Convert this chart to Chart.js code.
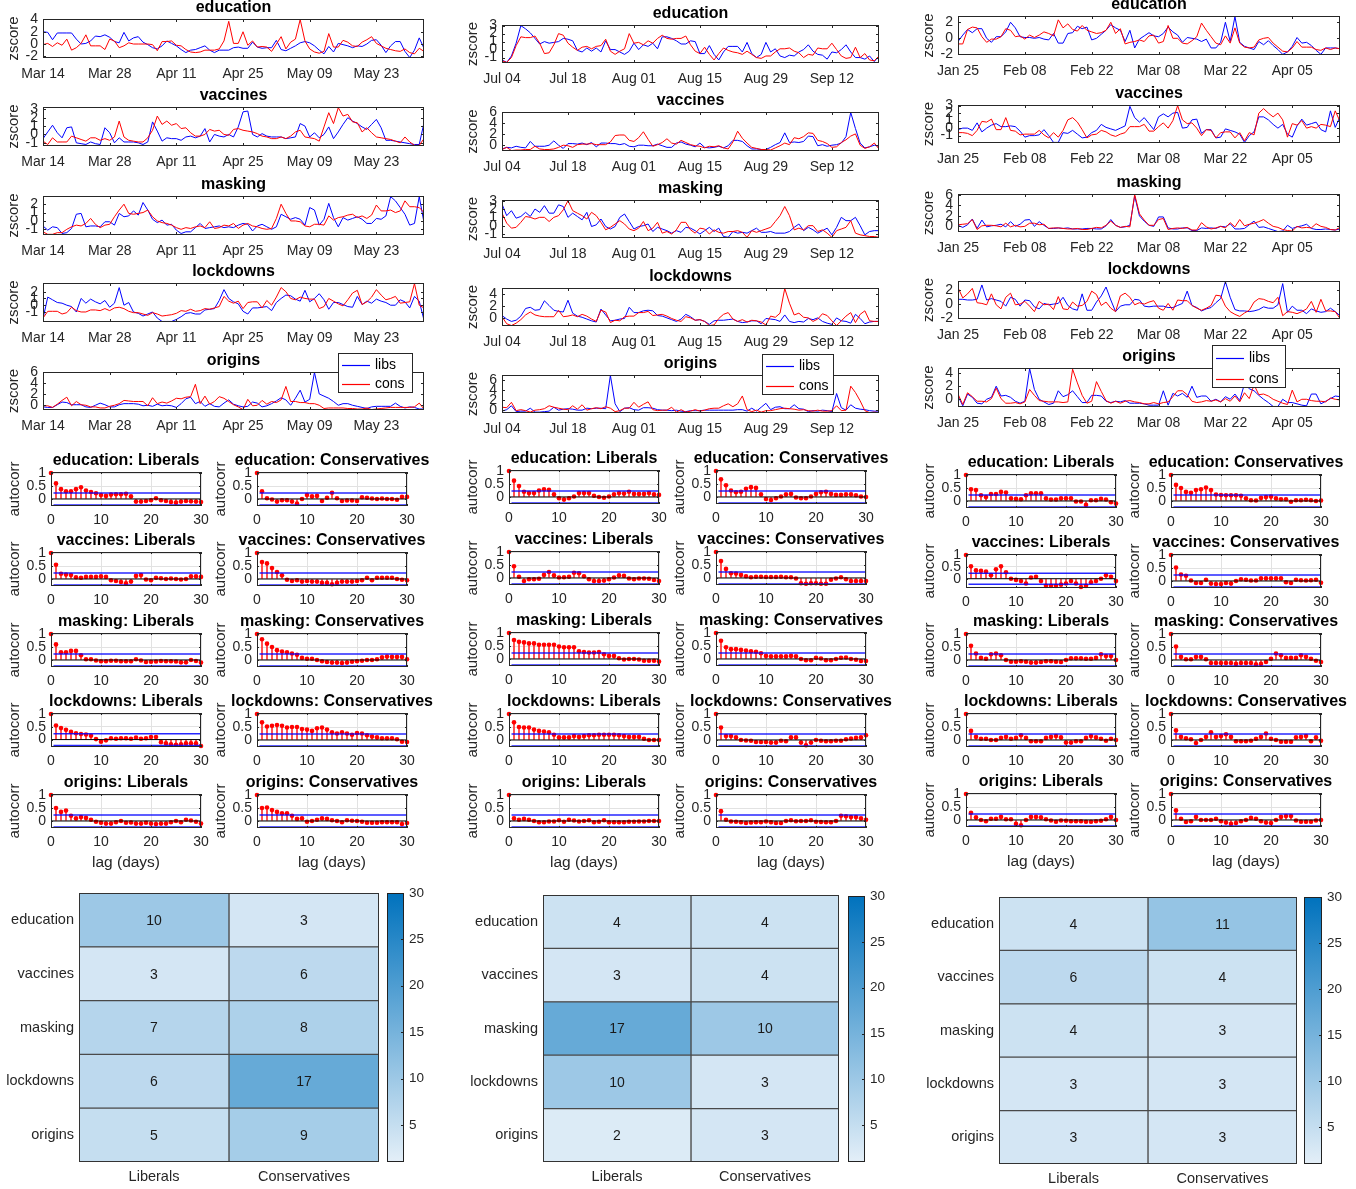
<!DOCTYPE html>
<html>
<head>
<meta charset="utf-8">
<script src="https://cdn.jsdelivr.net/npm/chart.js@4.4.1/dist/chart.umd.min.js"></script>
<style>
  body { margin: 0; background: #fff; }
  #fig { position: relative; width: 1356px; height: 1189px; overflow: hidden; background: #fff; }
  #fig canvas { position: absolute; }
</style>
</head>
<body>
<div id="fig"></div>
<script>
const topics = ["education", "vaccines", "masking", "lockdowns", "origins"];
const groups = ["Liberals", "Conservatives"];
const dates1 = ["Mar 14", "Mar 28", "Apr 11", "Apr 25", "May 09", "May 23"];
const dates2 = ["Jul 04", "Jul 18", "Aug 01", "Aug 15", "Aug 29", "Sep 12"];
const dates3 = ["Jan 25", "Feb 08", "Feb 22", "Mar 08", "Mar 22", "Apr 05"];
const lags = [0,1,2,3,4,5,6,7,8,9,10,11,12,13,14,15,16,17,18,19,20,21,22,23,24,25,26,27,28,29,30];
const lagTicks = [0, 10, 20, 30];
const acfTicks = [0, 0.5, 1];
const cbarTicks = [5, 10, 15, 20, 25, 30];
const cbarRange = [1, 30];

// z-scores, column 1 (Mar 14 - Jun 2)
const libs1Edu = [2.0,1.9,0.7,1.8,1.8,1.8,1.8,0.8,0.0,0.1, 0.5,1.3,1.2,1.5,1.1,0.4,0.2,1.9,0.5,1.0, 1.2,0.3,-0.1,-0.6,-0.8,-0.3,0.5,0.1,-0.3,-0.9, -1.4,-1.0,-0.9,-0.6,-0.3,-1.0,-1.4,-1.0,-1.0,-1.0, -0.6,-0.5,-0.7,-0.7,0.3,-0.5,-0.7,-0.6,-0.6,0.6, -0.9,-1.1,-0.7,-0.3,0.2,0.4,0.2,-0.3,-1.0,-1.6, -0.4,-1.3,0.1,-0.1,-0.3,-0.6,-0.3,-0.4,0.0,0.6, 0.7,-0.2,-1.4,-0.3,0.4,0.4,-1.2,-2.2,-1.0,1.0,-0.7];
const cons1Edu = [-0.1,0.1,-0.4,0.2,-0.2,0.8,-1.0,-0.6,0.1,1.5, -0.3,-0.3,-0.3,-0.9,0.8,0.5,-0.6,-0.3,0.2,0.0, 0.0,0.0,0.0,-0.1,-1.1,0.4,0.4,0.5,-0.2,-0.3, -0.9,-1.3,-1.4,-1.3,-1.0,-1.0,-1.0,-0.8,0.5,3.7, 0.1,0.1,2.0,-0.2,0.5,-0.5,-0.4,-0.5,-1.2,0.0, 1.2,-0.8,0.3,0.8,4.0,0.5,-0.8,-1.3,-1.5,-1.2, 1.7,-0.5,-0.5,0.6,0.3,-0.3,-0.4,0.3,0.7,1.2, 0.1,-0.3,-0.7,-0.9,-1.1,-1.2,-0.8,-1.4,-1.6,-0.7,-1.2];
const libs1Vac = [-0.5,0.3,1.1,0.2,-0.4,0.8,0.9,-1.0,-1.1,-1.2, -0.9,-1.1,-1.2,0.8,0.2,-1.0,-0.4,-0.9,-0.9,-0.9, -1.0,-1.2,-0.9,1.5,0.4,-0.8,-0.4,-0.5,-0.5,-0.7, -0.3,-0.2,-0.4,-0.2,0.7,-0.9,0.0,-0.2,-0.3,0.0, -0.3,0.9,2.7,2.8,0.0,-0.3,0.1,-0.2,-0.3,-0.3, -0.3,-0.5,-0.4,-0.3,1.3,1.0,-0.3,0.2,-0.4,0.0, 0.9,-0.5,0.3,1.2,2.0,1.6,1.3,0.9,0.6,1.2, 1.8,0.8,-0.7,-0.7,-0.8,-0.9,-1.0,-1.1,-1.2,-1.2,1.4];
const cons1Vac = [-0.8,-1.2,-0.4,-0.9,-0.9,-0.9,-0.2,-0.4,-0.6,-0.8, -0.4,-0.4,-0.7,-0.5,-0.7,-0.3,1.6,-0.3,-0.7,-0.8, -0.9,-0.9,-0.4,0.5,2.2,1.2,1.6,1.1,1.3,0.7, 0.8,0.2,-0.2,-0.2,0.0,0.6,0.4,0.5,0.0,-0.1, 0.6,0.7,0.5,0.4,0.3,0.1,-0.2,-0.3,-0.5,-0.5, -0.3,-0.5,-0.2,0.3,0.5,-0.3,-0.4,-0.5,-0.8,0.9, 2.6,1.3,3.2,2.2,2.4,1.5,1.4,0.3,0.8,0.2, -0.3,-0.4,-0.5,-0.6,-0.8,-1.0,-0.3,-0.9,-1.3,-1.3,-0.5];
const libs1Mask = [-0.6,-1.1,-0.7,-0.8,-1.5,-1.4,-0.9,0.8,0.9,-0.7, -0.6,-0.6,-0.7,-0.1,-0.1,-0.5,0.9,0.5,0.6,1.2, 0.7,2.2,1.3,0.2,-0.2,0.1,-0.5,-0.4,-1.1,-1.5, -1.3,-1.3,-0.8,-0.3,-0.9,-0.8,-0.7,-0.6,-0.8,-0.7, -0.8,-0.5,-0.3,-0.4,-1.2,-0.6,-0.4,-0.7,-1.0,-0.7, 0.8,0.5,0.2,0.4,0.2,-0.5,1.6,1.3,-0.5,0.2, 2.1,0.4,-0.7,0.4,0.1,0.3,0.5,0.2,-0.3,-0.3, 0.3,0.2,0.6,2.9,2.4,1.6,0.8,-0.5,-0.3,2.9,-0.2];
const cons1Mask = [-1.3,-1.6,-1.6,-1.4,-1.4,-1.0,-0.7,-0.5,-0.6,-0.3, 0.3,-0.4,-0.8,-0.5,-0.4,0.5,1.3,2.0,0.9,0.8, 0.9,1.0,1.3,0.5,0.0,-0.2,-0.3,-0.5,-0.8,-1.0, -0.8,-0.9,-0.7,-0.6,-0.8,-0.1,-0.9,-0.8,-0.5,-0.6, -0.3,-0.9,-0.5,-0.3,-0.6,-0.7,-0.9,-1.0,-0.9,0.3, 2.0,0.9,0.0,0.0,-0.1,-0.6,-0.7,-0.4,-0.4,-0.5, 0.6,0.1,0.4,0.5,0.7,0.8,0.4,0.6,0.3,0.7, 1.9,1.2,1.2,1.3,1.0,1.2,2.4,1.7,1.7,1.6,1.0];
const libs1Lock = [-2.0,1.2,0.8,0.4,0.3,0.0,-0.2,-1.0,1.0,0.3, 0.9,0.5,0.2,0.7,-0.3,0.3,2.6,0.0,0.4,-1.0, -1.2,-1.6,-1.3,-1.0,-1.9,-2.4,-2.4,-2.4,-2.1,-1.7, -1.2,-1.1,-1.3,-1.3,-0.7,-0.6,-0.5,0.7,2.3,1.0, 0.5,0.2,-0.9,-1.3,-0.4,-0.4,-0.3,-0.2,-0.8,0.4, 1.0,1.5,1.4,0.9,0.6,2.2,0.5,1.0,1.7,0.8, -0.6,0.4,0.4,0.1,-0.2,-0.3,1.3,0.1,0.6,0.3, 0.9,0.6,0.4,0.0,0.0,0.8,0.5,-0.4,1.3,0.6,-2.2];
const cons1Lock = [-1.9,-0.9,-0.9,-0.9,-1.3,-1.1,-0.3,-0.8,-1.0,-1.0, -0.7,-0.7,-0.8,-0.5,-0.8,-0.4,-0.3,-0.5,-0.9,-1.1, -1.1,-1.3,-1.5,-1.1,-1.3,-1.6,-1.5,-1.4,-1.2,-0.8, -0.9,-0.6,-0.9,-0.8,-0.5,-0.6,-0.4,-0.2,1.3,0.6, 0.3,0.6,-0.5,0.4,0.5,0.5,-0.4,0.7,0.0,1.2, 2.6,2.0,1.0,0.8,1.2,1.0,0.9,0.9,-0.5,-0.2, 1.0,0.6,0.2,-0.1,0.8,1.8,2.2,0.1,0.5,1.2, 2.3,1.5,0.8,1.0,1.3,0.3,0.4,0.5,3.2,0.0,-0.4];
const libs1Orig = [-0.4,-0.5,-0.5,0.0,0.5,0.4,0.0,0.0,0.0,-0.4, -0.5,-0.1,0.3,0.0,-0.4,-0.4,0.0,0.2,0.2,0.2, 0.1,-0.2,-0.1,-0.3,0.1,-0.2,-0.1,-0.2,-0.5,0.2, 1.1,1.4,0.2,0.6,-0.3,0.2,-0.3,-0.4,0.3,0.9, 0.1,-0.2,-0.4,-0.3,0.5,0.3,-0.4,-0.2,0.2,0.7, 1.3,0.9,-0.1,1.2,2.7,0.5,1.0,6.0,2.0,1.6, 1.2,0.6,-0.1,0.2,0.2,-0.1,-0.3,-0.5,-0.7,-0.4, -0.3,-0.3,-0.3,-0.3,0.3,-0.3,-0.6,-0.4,-0.5,-0.8,-0.8];
const cons1Orig = [-0.2,-0.2,-0.5,0.1,0.8,1.4,-0.2,0.6,0.0,-0.1, -0.4,-0.4,-0.6,-0.6,-0.3,-0.1,0.2,0.8,0.7,0.6, 0.6,0.6,-0.2,1.3,0.2,0.5,0.3,0.7,1.2,1.1, 1.4,1.5,3.8,0.2,1.6,0.1,0.6,1.5,1.2,0.6, 0.0,-0.4,-0.9,1.0,-0.2,-0.1,0.8,0.1,0.6,0.4, 0.9,3.4,0.6,0.6,0.4,0.4,0.2,0.2,-0.1,-0.7, -0.6,-0.6,-0.6,-0.6,-0.7,-0.7,-0.8,-0.8,-0.6,-0.9, -0.8,-0.7,-0.6,-0.5,-0.5,-0.5,-0.5,-0.5,-0.4,0.3,-0.8];

// z-scores, column 2 (Jul 04 - Sep 23)
const libs2Edu = [-1.3,-1.6,-0.8,0.8,3.0,2.6,2.1,1.4,0.7,1.0, 0.8,0.9,1.0,1.4,1.3,1.1,-0.1,-0.3,0.2,-0.2, 0.2,-0.3,1.1,0.0,0.0,-0.3,-0.6,-0.2,0.8,0.0, 0.6,0.4,0.8,0.1,1.6,1.6,1.4,1.1,0.7,0.7, 1.1,1.0,-0.5,-0.5,0.5,-0.6,-1.3,-0.3,0.4,0.4, 0.4,-0.3,0.9,-0.5,-1.0,-0.6,0.9,-0.3,0.1,-0.8, -1.0,-0.7,-0.8,-0.3,0.0,0.6,-0.2,-0.6,-0.7,-1.2, -0.3,-0.4,0.0,0.6,-0.3,-1.0,-1.0,-1.2,-0.8,-1.5,-0.8];
const cons2Edu = [-1.4,-1.6,-1.0,0.5,1.6,1.5,1.5,1.7,0.8,-0.5, -0.4,0.6,2.0,1.8,0.8,0.3,-0.1,0.3,0.4,0.1, 0.4,0.5,1.3,-0.2,-0.6,-0.2,0.1,2.0,0.8,0.9, 0.6,1.1,0.8,1.4,1.8,1.4,1.3,1.4,1.4,1.7, 0.6,-0.2,-0.5,0.3,-0.6,-1.3,-0.5,0.2,-0.1,-0.3, -0.4,-0.6,-0.2,-0.6,-1.0,-1.1,-0.8,-0.8,-0.3,0.1, 0.1,0.2,-0.2,-0.4,-1.0,-0.6,-0.7,0.2,0.1,0.1, 0.8,0.0,-0.8,-1.1,-1.0,0.3,-1.0,-0.5,-1.3,-1.4,-0.8];
const libs2Vac = [-0.8,-0.5,-0.6,-0.3,-0.5,-0.6,0.6,-0.3,-0.3,-0.3, -0.1,0.7,-0.1,-0.7,0.2,0.2,0.1,0.3,0.0,0.4, -0.4,0.3,0.3,0.2,0.2,0.0,0.2,-0.3,-0.4,-0.1, -0.1,-0.2,-0.2,0.1,-0.2,-0.5,-0.5,0.3,0.5,0.1, -0.1,-0.4,0.3,-0.5,-0.6,-0.5,-0.3,-0.6,-0.2,0.8, 0.8,0.6,-0.2,-0.8,-0.8,-0.9,-0.9,-0.5,0.0,0.4, 2.2,0.4,0.5,0.4,0.6,1.6,1.5,-0.2,0.0,-0.3, -0.1,0.0,0.3,1.5,6.0,3.0,0.3,-0.6,-0.4,-0.1,-0.3];
const cons2Vac = [-0.9,-0.5,-1.1,-1.0,-1.0,-0.9,-0.9,-0.3,-0.8,-0.9, -0.9,-0.8,-0.5,-0.1,-0.2,-0.5,0.0,0.1,0.1,0.2, 0.0,0.0,0.0,0.5,1.7,1.8,1.8,0.8,0.6,1.3, 2.4,1.0,-0.3,0.0,0.4,1.1,0.3,0.1,0.8,0.4, 0.0,-0.2,-0.3,-0.6,-0.3,-0.4,-0.2,-0.6,-0.8,0.5, 2.5,1.2,0.3,-0.5,-0.7,-0.9,-0.9,-1.0,-0.6,-0.2, 0.3,0.0,1.3,1.1,1.5,2.2,2.1,0.8,0.6,0.2, -0.5,-0.4,0.4,0.9,1.6,2.0,-0.1,-0.7,-0.4,0.3,-0.8];
const libs2Mask = [2.6,1.2,1.8,0.9,1.1,1.6,1.1,2.0,1.6,2.4, 1.5,1.5,2.5,2.3,1.0,1.5,1.1,0.7,1.6,-0.1, 0.1,0.8,-0.1,-0.4,-0.1,1.0,1.4,0.5,-0.4,-0.1, 0.0,0.2,-0.7,-0.2,-0.4,-0.6,-0.9,-0.6,-0.8,-0.2, -0.3,-0.6,-1.0,-0.6,-0.2,-0.7,-0.3,-1.3,-1.4,-0.7, -0.9,-0.8,-0.9,-0.6,-0.3,-0.8,-0.8,-0.7,-0.9,-0.9, -0.9,-0.7,-0.2,0.2,-0.6,-0.2,-0.5,-0.9,-0.6,-0.3, -1.1,-0.2,1.0,0.6,0.6,1.0,0.0,-1.1,-0.7,-0.6,-0.6];
const cons2Mask = [1.5,0.3,-0.3,-0.2,0.4,1.1,1.0,0.8,1.0,1.0, 0.5,1.0,1.2,1.9,3.0,1.8,1.5,1.2,0.8,1.6, 1.2,0.4,-0.5,-0.2,0.2,0.6,0.2,-0.4,-0.6,-0.3, 0.5,-0.6,-0.3,0.4,-0.9,-0.7,-1.0,-0.5,0.4,0.4, -0.5,-0.9,-0.3,-0.4,-1.0,-0.5,-0.8,-0.9,-0.7,-0.7, -0.6,-0.8,-1.4,-0.6,-0.8,-0.6,-0.4,-0.2,0.5,1.2, 2.3,1.2,-0.5,-0.3,-0.5,0.0,0.0,-0.7,-0.5,-0.9, -1.4,-0.6,-0.4,-0.2,0.6,-0.9,-1.1,-1.2,-1.3,-1.3,-1.4];
const libs2Lock = [0.4,-0.2,-0.6,-0.4,0.3,1.6,1.8,1.3,1.4,2.9, 2.1,1.3,1.1,1.0,3.0,0.8,0.3,0.1,-0.2,-0.5, -0.7,1.5,0.5,-0.5,-0.4,-0.2,-0.1,1.8,0.9,0.9, 1.2,1.3,1.2,0.4,0.3,0.0,-0.3,-0.6,-0.2,0.6, 0.2,-0.4,-0.3,-0.6,-1.1,-0.5,-0.4,-0.4,-0.3,-0.2, -0.6,-0.8,-0.7,-0.5,-0.5,-1.0,-0.1,-0.2,-0.3,-0.6, 0.5,-0.6,-0.8,-0.6,-0.7,-0.1,-0.3,0.0,-0.6,-0.9, -1.1,0.0,-0.5,-0.6,-0.9,0.6,-0.1,-1.0,-0.7,-0.6,-0.6];
const cons2Lock = [0.2,-1.0,-1.3,-0.9,-0.3,0.5,1.0,0.5,0.3,0.2, 0.2,0.2,1.3,0.2,0.3,0.5,0.2,0.6,0.3,-0.2, -0.6,1.3,1.0,-0.8,-0.4,-0.5,0.2,0.3,0.3,0.9, 0.9,1.1,0.4,0.5,0.6,0.3,-0.1,-0.4,-0.6,0.2, 0.0,-0.4,-0.3,-0.6,-1.3,-1.2,-0.1,0.6,0.9,-0.2, -0.6,-0.3,-0.7,-0.4,-0.5,-0.7,-1.2,0.3,0.1,0.8, 5.0,2.5,0.5,0.8,0.1,0.0,-0.6,-0.2,0.7,0.4, -0.5,-1.3,-0.5,0.3,0.9,-0.8,0.6,1.2,-0.5,-0.6,-0.6];
const libs2Orig = [-0.3,0.0,0.8,-0.4,-0.3,-0.3,0.3,-0.5,-0.5,-0.4, -0.3,0.5,-0.1,0.1,0.2,0.1,-0.1,-0.1,0.3,0.2, 0.3,0.3,0.2,7.0,1.2,-0.4,0.3,0.4,0.0,-0.1, 0.4,0.4,0.3,0.0,-0.1,-0.1,-0.2,-0.1,-0.3,-0.4, -0.2,-0.2,-0.2,-0.1,-0.1,-0.1,-0.1,-0.1,-0.1,-0.1, 0.0,0.0,-0.3,0.3,-0.3,0.5,1.3,0.0,0.5,0.6, 0.2,0.2,1.0,0.2,0.1,-0.4,-0.2,-0.3,-0.1,-0.2, -0.4,3.3,0.4,-0.1,1.0,0.3,0.1,0.0,-0.2,-0.3,-0.3];
const cons2Orig = [0.5,0.4,1.5,-0.2,0.0,-0.2,-0.5,-0.1,0.0,0.2, 0.8,0.5,0.3,0.1,0.0,0.8,0.1,1.0,-0.1,0.2, 0.4,0.2,0.6,0.3,-0.4,-0.2,0.3,0.3,1.5,0.5, 1.1,1.6,0.0,-0.2,-0.1,-0.1,0.5,-0.5,0.0,-0.5, -0.3,0.0,-0.3,-0.1,0.2,0.3,0.3,0.8,1.2,0.6, 1.2,2.8,0.0,-0.4,-0.1,-0.5,-0.2,-0.2,0.0,0.2, 0.3,0.2,0.1,-0.1,0.0,-0.2,-0.3,-0.1,-0.3,-0.3, -0.2,0.8,-0.2,-0.1,4.8,3.5,1.8,-0.2,-0.6,-0.5,-0.6];

// z-scores, column 3 (Jan 25 - Apr 15)
const libs3Edu = [-0.4,0.4,1.1,0.7,1.2,1.2,0.0,-0.5,0.2,0.2, 0.8,2.0,1.3,0.2,0.1,0.1,0.0,0.1,-0.1,-0.2, 0.6,-0.6,-0.6,0.6,0.7,1.5,1.2,1.4,-0.2,0.0, 0.5,1.0,1.7,1.3,1.0,-0.4,1.0,-1.2,-0.1,0.3, 0.7,0.3,0.2,0.6,1.4,0.8,0.4,-0.5,0.1,0.0, -0.1,-0.4,-0.1,-1.2,-1.2,-0.5,2.0,-0.4,2.7,-0.5, -1.0,-1.2,-1.4,-0.4,-0.8,-0.3,-0.9,-1.4,-2.0,-1.7, -1.0,0.1,-0.6,-0.5,-0.9,-1.5,-2.0,-1.2,-1.2,-1.2,-1.3];
const cons3Edu = [-0.7,-0.7,1.1,1.4,1.3,0.2,-0.5,-0.1,-0.1,0.2, 1.2,1.0,0.2,0.3,-0.1,0.4,0.1,0.4,0.8,0.6, 0.3,2.3,1.3,1.8,1.1,0.9,1.6,1.0,0.8,0.6, 0.7,1.0,2.0,0.6,1.2,-0.7,-0.5,-0.4,-0.2,-0.4, 0.3,0.4,-0.6,-0.4,1.6,0.0,0.0,-0.6,-0.7,-0.3, 0.2,1.9,1.0,0.2,-0.6,-0.8,0.3,-0.6,1.3,-0.6, -1.1,-1.2,-1.1,-0.2,0.0,0.1,-0.6,-1.1,-1.6,-1.7, -1.2,-0.4,-1.1,-1.1,-1.1,-1.4,-1.5,-1.2,-1.4,-1.2,-1.3];
const libs3Vac = [-0.2,0.0,0.0,-0.3,0.7,-0.5,0.0,0.4,0.6,0.2, 0.2,0.3,0.2,-0.4,-1.2,-1.0,-1.0,-0.9,-0.2,-1.0, -1.9,-1.9,-0.6,-0.7,-0.3,-0.8,-1.3,-1.2,-0.6,-0.3, 0.5,0.1,-0.1,-0.3,0.0,0.3,2.9,1.4,0.8,1.4, 0.6,-0.2,1.5,1.9,1.5,2.0,2.1,0.0,0.1,1.1, 1.2,-0.7,-0.2,-0.2,-1.3,-1.2,-0.1,-0.3,-0.5,-0.8, -1.9,-1.0,-0.5,1.5,1.5,1.1,0.5,0.0,0.5,-0.8, -1.2,0.3,1.2,0.4,0.6,0.8,-0.2,-0.5,2.3,0.1,1.5];
const cons3Vac = [-0.6,-0.6,-0.7,-1.0,-0.3,0.9,0.8,1.2,-0.2,-0.2, 1.4,-0.3,-0.4,-0.9,-0.8,-0.8,-0.8,-0.3,-0.9,-1.3, -0.6,-1.2,-0.3,1.1,1.4,0.8,-0.2,-1.3,-0.9,-0.8, -0.3,-0.5,-0.9,-1.1,-0.8,-0.6,0.2,0.2,0.2,0.5, -0.4,-0.4,0.2,0.7,0.0,1.0,3.0,1.1,0.6,0.7, 0.0,-1.0,-0.2,-0.3,-1.3,-0.6,-0.5,-0.5,-1.3,-0.6, -1.7,-0.6,-0.9,2.0,2.6,2.0,1.5,2.0,1.1,-1.2, 0.6,0.4,1.0,0.0,0.2,0.0,0.5,0.4,0.2,2.3,0.9];
const libs3Mask = [0.2,-0.2,0.3,1.4,-0.4,1.2,-0.1,0.1,0.2,0.4, -0.1,0.9,0.0,0.4,1.2,1.3,0.0,0.9,0.2,-0.4, -0.4,-0.3,-0.4,-0.3,-0.5,-0.5,-0.5,-0.4,-0.4,-0.5, -0.5,0.1,1.3,0.2,-0.2,-0.1,0.2,5.8,2.0,1.0, 0.2,0.0,1.8,1.8,-0.3,-0.5,-0.5,-0.3,-0.3,-0.8, -0.8,-0.3,-0.4,-0.3,-0.4,0.0,-0.1,0.5,-0.5,-0.5, -0.4,0.3,1.0,-0.2,-0.1,-0.4,-0.7,-1.0,-0.9,0.2, -0.4,-0.1,0.1,0.4,-0.4,-0.6,-0.6,-0.5,-0.6,-0.7,-0.5];
const cons3Mask = [0.3,0.4,0.5,1.3,-0.6,0.1,0.2,0.2,0.1,-0.1, 0.6,-0.1,0.2,-0.1,0.0,0.6,0.6,0.3,0.4,-0.4, -0.3,-0.3,-0.4,-0.5,-0.5,-0.4,-0.6,-0.6,-0.4,-0.2, -0.3,0.2,1.0,0.2,-0.2,0.0,-0.1,6.1,2.4,1.2, 0.2,0.2,1.3,1.5,-0.6,-0.4,-0.3,-0.4,-0.2,-0.7, -0.7,0.7,-0.1,-0.5,-0.3,0.0,-0.3,0.7,-0.1,1.3, 0.1,0.4,0.6,0.9,1.3,0.6,0.0,-0.2,-0.6,-0.8, -0.9,0.0,-0.3,-0.2,-0.3,0.5,0.0,-0.2,-0.6,-0.7,-0.2];
const libs3Lock = [0.7,0.7,0.6,0.6,0.7,2.8,0.6,0.8,0.6,0.4, -0.3,1.0,0.7,-0.3,0.6,0.5,-0.4,-0.7,0.1,-0.1, 0.0,0.1,1.0,-0.2,-0.7,-0.9,1.5,-0.9,-0.9,0.3, 1.2,2.5,0.6,-1.1,-0.3,-0.1,-0.1,0.7,0.6,-0.3, -0.4,-0.3,-0.3,-0.3,-0.5,-0.5,-0.2,0.1,1.9,-0.2, -0.5,-1.0,-0.7,-0.5,0.2,0.8,3.3,1.0,-0.8,-1.0, -1.0,-1.1,-1.0,-0.8,-0.4,-0.6,-0.6,-0.1,3.0,-1.2, -0.3,-0.9,-0.9,-1.4,-0.7,-1.0,-1.2,-1.1,-0.6,-1.1,-1.7];
const cons3Lock = [2.4,0.9,1.5,2.3,0.2,0.1,-0.1,1.5,-0.1,-0.7, 1.0,1.6,-0.1,0.0,0.4,-0.3,-1.1,0.4,-0.1,0.0, -0.8,1.1,-0.7,-0.8,0.3,-0.3,-0.2,0.4,1.9,1.4, -0.2,0.3,-0.6,-1.1,1.2,1.6,1.0,-0.1,0.2,0.0, 0.3,0.5,-0.6,-0.9,0.1,-0.9,0.6,0.5,0.5,-0.2, -0.6,-0.9,-0.6,-0.2,1.3,1.2,-0.3,-1.1,-1.5,-1.8, -1.3,-0.9,0.3,0.8,0.7,0.4,0.2,1.0,-1.7,-1.1, -1.2,-1.4,-1.1,-0.7,0.4,-1.2,0.7,-1.0,-1.0,-1.1,-2.1];
const libs3Orig = [0.5,-1.0,0.8,0.3,-0.6,-0.7,0.0,0.3,2.0,0.5, 0.6,0.3,-0.3,-0.6,-0.3,4.7,1.5,0.0,-0.4,-0.8, -0.6,1.3,0.4,0.7,1.3,0.4,-0.5,-0.5,0.6,0.6, 0.5,-0.3,-0.5,-0.3,-0.4,-0.2,-0.6,-0.6,-0.6,-0.7, -0.9,-0.9,-0.9,1.3,-0.9,0.9,0.5,0.9,0.3,2.0, 0.3,0.5,0.5,-0.3,0.0,-0.4,0.4,0.0,0.8,-0.2, 2.4,1.6,1.3,0.6,0.0,-0.5,-1.1,-1.1,0.0,-0.5, -0.5,-0.7,-0.9,-1.0,0.8,0.8,-0.7,-0.3,0.1,0.5,0.4];
const cons3Orig = [0.8,-0.8,1.0,0.4,-0.3,-0.3,-0.4,0.1,1.7,0.1, -0.6,-0.6,-0.5,-0.7,-0.4,1.5,0.6,-0.2,-0.3,-0.4, -0.4,-0.4,-0.5,-0.4,4.6,2.5,0.6,-0.6,-0.3,2.7, 1.2,-0.2,-0.6,-0.3,-0.6,-0.3,-0.2,-0.4,-0.5,-0.7, -0.7,-0.5,-0.7,-0.5,-0.4,0.4,1.3,1.3,0.7,-0.3, -0.5,-0.4,-0.2,-0.3,-0.1,-0.4,0.1,-0.3,0.5,-0.4, 1.0,0.1,2.2,0.7,0.8,0.5,0.0,-0.3,-0.6,-0.8, 1.4,-0.4,0.0,0.0,-0.2,-0.3,-0.3,-0.4,0.2,0.0,-0.1];

// autocorrelation, lags 0..30
const acfLib1Edu = [1,0.6,0.38,0.3,0.3,0.38,0.45,0.33,0.27,0.22, 0.15,0.12,0.17,0.18,0.18,0.2,0.1,-0.1,-0.1,-0.08, -0.05,0.03,-0.05,-0.08,-0.12,-0.14,-0.1,-0.08,-0.09,-0.1, -0.12];
const acfCon1Edu = [1,0.3,0.03,-0.02,-0.1,-0.05,-0.05,-0.1,-0.18,0.0, 0.15,0.1,0.12,-0.08,0.05,0.24,0.03,-0.08,-0.06,-0.06, -0.08,0.07,0.05,0.02,0.0,0.02,0.0,0.0,-0.03,0.08, 0.08];
const acfLib1Vac = [1,0.55,0.2,0.17,0.15,0.07,0.05,0.08,0.08,0.08, 0.1,0.08,-0.05,-0.08,-0.12,-0.17,-0.1,0.12,0.15,-0.02, -0.05,0.05,0.03,0.0,0.02,0.0,-0.02,0.0,0.1,0.1, 0.08];
const acfCon1Vac = [1,0.65,0.6,0.42,0.27,0.14,-0.03,-0.08,-0.05,-0.1, -0.08,-0.1,-0.1,-0.15,-0.15,-0.2,-0.15,-0.1,-0.1,-0.1, -0.08,-0.05,0.05,-0.05,0.05,0.05,0.05,0.05,0.0,-0.03, -0.05];
const acfLib1Mask = [1,0.6,0.3,0.3,0.35,0.35,0.18,0.03,0.03,-0.02, -0.05,-0.05,-0.03,-0.03,-0.05,-0.05,-0.05,0.03,-0.02,-0.08, -0.07,-0.06,-0.04,-0.05,-0.05,-0.06,-0.09,-0.09,0.0,-0.04, -0.1];
const acfCon1Mask = [1,0.8,0.63,0.5,0.38,0.33,0.3,0.25,0.2,0.08, 0.05,0.05,0.0,-0.05,-0.08,-0.1,-0.1,-0.12,-0.1,-0.07, -0.05,-0.03,0.0,0.0,0.03,0.1,0.13,0.12,0.12,0.12, 0.03];
const acfLib1Lock = [1,0.55,0.45,0.38,0.3,0.25,0.22,0.2,0.15,0.02, -0.08,-0.03,0.05,0.03,0.05,0.05,0.03,0.08,0.03,0.05, 0.1,0.1,-0.1,-0.15,-0.18,-0.2,-0.18,-0.15,-0.15,-0.15, -0.25];
const acfCon1Lock = [1,0.68,0.52,0.55,0.58,0.55,0.48,0.5,0.5,0.42, 0.4,0.35,0.45,0.48,0.4,0.3,0.25,0.3,0.25,0.2, 0.27,0.25,0.18,0.13,0.1,0.07,0.07,0.07,0.03,-0.07, -0.08];
const acfLib1Orig = [1,0.5,0.35,0.4,0.2,0.1,0.15,0.12,0.05,-0.03, -0.07,-0.1,-0.1,-0.05,0.0,-0.07,-0.06,-0.1,-0.1,-0.07, -0.1,-0.12,-0.1,-0.1,-0.05,0.0,-0.05,0.05,0.02,-0.03, -0.1];
const acfCon1Orig = [1,0.5,0.52,0.42,0.35,0.3,0.3,0.2,0.08,0.1, -0.03,0.0,0.05,0.1,0.08,0.03,0.0,-0.05,0.03,0.01, 0.0,-0.03,-0.07,-0.07,-0.07,-0.05,-0.05,-0.05,-0.05,-0.12, -0.08];
const acfLib2Edu = [1,0.63,0.42,0.2,0.15,0.15,0.25,0.3,0.28,0.1, -0.05,-0.1,-0.05,0.02,0.15,0.15,0.15,0.05,0.0,-0.03, 0.02,0.1,0.15,0.13,0.2,0.12,0.12,0.12,0.15,0.1, 0.08];
const acfCon2Edu = [1,0.68,0.45,0.25,0.18,0.2,0.32,0.38,0.35,0.1, -0.08,-0.12,-0.05,0.02,0.1,0.12,-0.02,-0.05,-0.05,0.02, 0.12,0.18,0.2,0.12,0.08,0.08,0.1,0.1,0.07,0.02, 0.0];
const acfLib2Vac = [1,0.45,0.05,-0.12,-0.05,-0.05,-0.03,0.12,0.23,0.1, 0.02,0.03,0.05,0.2,0.18,0.07,-0.05,-0.12,-0.12,-0.1, -0.05,0.02,0.1,0.08,-0.02,-0.05,-0.02,-0.02,-0.03,-0.08, -0.12];
const acfCon2Vac = [1,0.65,0.35,0.18,0.17,0.12,0.07,0.03,0.05,0.05, 0.04,0.04,0.04,0.05,0.03,0.03,-0.02,-0.2,-0.22,-0.2, -0.2,-0.22,-0.22,-0.07,-0.02,0.03,-0.05,-0.12,-0.12,-0.12, -0.12];
const acfLib2Mask = [1,0.73,0.66,0.64,0.6,0.6,0.55,0.55,0.55,0.55, 0.48,0.45,0.45,0.45,0.3,0.27,0.25,0.25,0.27,0.18, 0.12,0.12,0.03,-0.02,0.0,0.0,-0.02,-0.07,-0.07,-0.07, -0.1];
const acfCon2Mask = [1,0.7,0.45,0.38,0.38,0.35,0.33,0.3,0.28,0.22, 0.12,0.1,0.1,0.1,0.1,0.12,0.1,0.0,-0.05,-0.05, 0.05,0.02,-0.05,-0.05,0.0,0.05,0.06,0.0,-0.03,-0.08, -0.08];
const acfLib2Lock = [1,0.68,0.5,0.48,0.48,0.4,0.35,0.33,0.3,0.2, 0.1,0.1,0.1,0.15,0.12,0.15,0.18,0.18,0.2,0.2, 0.2,0.2,0.18,0.15,0.12,0.12,0.12,0.05,0.0,0.0, 0.0];
const acfCon2Lock = [1,0.48,0.15,0.15,0.1,0.0,-0.02,-0.03,-0.08,-0.08, -0.08,-0.1,-0.1,-0.03,-0.05,0.1,0.1,-0.1,-0.2,-0.1, 0.0,-0.03,-0.05,-0.05,-0.03,-0.03,0.03,0.06,0.08,0.1, 0.18];
const acfLib2Orig = [1,0.1,0.05,0.08,0.05,0.0,-0.05,-0.05,-0.02,-0.02, 0.03,-0.03,0.05,0.02,-0.02,0.0,0.03,-0.05,-0.03,0.03, -0.05,-0.05,-0.05,-0.05,-0.03,-0.03,-0.02,-0.02,0.0,0.0, 0.0];
const acfCon2Orig = [1,0.38,0.05,-0.02,-0.03,-0.05,-0.08,-0.06,-0.05,-0.05, -0.02,-0.05,-0.08,-0.08,0.0,0.03,-0.01,0.0,0.0,0.03, -0.03,-0.04,-0.05,-0.05,0.0,0.2,0.18,0.15,0.15,0.1, 0.05];
const acfLib3Edu = [1,0.45,0.42,0.22,0.15,0.27,0.27,0.35,0.33,0.1, 0.08,0.07,0.22,0.3,0.3,0.3,0.1,0.06,0.06,0.1, 0.1,0.1,-0.02,-0.02,-0.15,0.03,0.03,0.08,0.06,-0.05, -0.1];
const acfCon3Edu = [1,0.62,0.5,0.35,0.32,0.42,0.45,0.52,0.42,0.25, 0.23,0.22,0.22,0.22,0.2,0.1,0.03,0.02,0.12,0.15, 0.17,0.1,0.07,0.07,-0.03,0.03,0.03,0.05,0.03,0.0, 0.02];
const acfLib3Vac = [1,0.52,0.35,0.33,0.3,0.15,0.4,0.52,0.27,0.0, -0.05,-0.1,-0.2,0.05,0.08,-0.1,-0.3,-0.3,-0.3,-0.25, -0.2,-0.1,-0.2,-0.35,-0.3,-0.15,-0.1,0.0,0.15,0.08, -0.1];
const acfCon3Vac = [1,0.52,0.25,0.2,0.02,-0.08,-0.08,0.05,-0.1,-0.12, -0.12,-0.08,-0.1,0.0,0.07,0.05,0.02,0.02,0.1,0.1, 0.1,0.1,0.1,-0.05,-0.08,0.05,0.03,0.02,0.03,0.05, -0.07];
const acfLib3Mask = [1,0.55,0.25,0.08,0.05,0.22,0.25,0.18,0.0,-0.07, -0.07,-0.05,-0.07,-0.1,-0.1,-0.08,-0.05,-0.05,-0.07,-0.08, 0.0,0.07,0.07,0.07,0.05,0.05,0.08,0.22,0.15,0.15, 0.0];
const acfCon3Mask = [1,0.52,0.12,0.03,0.03,0.12,0.12,0.03,-0.12,-0.12, -0.12,-0.12,-0.12,-0.15,-0.12,-0.12,-0.12,-0.17,-0.15,-0.08, 0.05,0.25,0.18,0.08,0.08,0.08,0.18,0.12,0.05,-0.03, -0.08];
const acfLib3Lock = [1,0.35,0.12,0.05,0.05,0.0,0.0,0.08,0.12,0.05, 0.08,0.18,0.08,-0.05,-0.05,-0.05,0.08,0.12,0.15,0.1, -0.1,-0.1,-0.05,-0.05,0.08,0.15,0.1,0.05,-0.03,0.05, 0.0];
const acfCon3Lock = [1,0.37,0.12,0.07,0.03,-0.12,0.0,0.12,0.3,0.12, 0.15,0.22,0.12,-0.05,-0.05,-0.05,-0.03,0.05,0.12,0.25, 0.05,0.0,-0.07,-0.07,-0.07,0.1,0.12,0.15,-0.05,0.1, -0.03];
const acfLib3Orig = [1,0.28,0.1,0.0,-0.05,0.05,0.05,0.12,0.03,0.03, -0.15,-0.2,0.0,0.12,0.12,0.1,0.03,-0.02,-0.07,-0.02, -0.03,-0.05,-0.05,-0.05,-0.07,-0.07,-0.05,-0.03,0.03,0.12, 0.0];
const acfCon3Orig = [1,0.37,0.05,-0.08,-0.05,0.12,0.0,0.0,0.0,0.05, -0.05,-0.1,-0.15,-0.12,-0.05,0.0,0.08,0.05,-0.05,-0.1, -0.12,0.0,0.12,0.15,0.15,-0.02,-0.07,-0.07,-0.07,-0.02, 0.0];
const acfBound = 0.23;

// significant lags per topic (heatmaps)
const heatLib1 = [10, 3, 7, 6, 5];
const heatCon1 = [3, 6, 8, 17, 9];
const heatLib2 = [4, 3, 17, 10, 2];
const heatCon2 = [4, 4, 10, 3, 3];
const heatLib3 = [4, 6, 4, 3, 3];
const heatCon3 = [11, 4, 3, 3, 3];

// ---------------------------------------------------------------
const FONT = "'Liberation Sans', Arial, Helvetica, sans-serif";
const AXC = '#262626';
const LIB_COLOR = '#0000ff';
const CON_COLOR = '#ff0000';
Chart.defaults.font.family = FONT;
Chart.defaults.font.size = 14;
Chart.defaults.color = AXC;
Chart.defaults.animation = false;
Chart.defaults.plugins.legend.display = false;
Chart.defaults.plugins.tooltip.enabled = false;

function heatColor(v) {
  const t = Math.max(0, Math.min(1, (v - cbarRange[0]) / (cbarRange[1] - cbarRange[0])));
  const lo = [228, 239, 248], hi = [0, 114, 189];
  const c = lo.map((l, k) => Math.round(l + (hi[k] - l) * t));
  return 'rgb(' + c.join(',') + ')';
}

const deco = {
  id: 'deco',
  beforeDatasetsDraw(chart, args, o) {
    if (!o.gradient) return;
    const a = chart.chartArea, ys = chart.scales.y, ctx = chart.ctx;
    const g = ctx.createLinearGradient(0, ys.getPixelForValue(ys.min), 0, ys.getPixelForValue(ys.max));
    g.addColorStop(0, heatColor(ys.min));
    g.addColorStop(1, heatColor(ys.max));
    ctx.save();
    ctx.fillStyle = g;
    ctx.fillRect(a.left, a.top, a.width, a.height);
    ctx.restore();
  },
  afterDraw(chart, args, o) {
    const ctx = chart.ctx, a = chart.chartArea;
    const cx = (a.left + a.right) / 2, cy = (a.top + a.bottom) / 2;
    ctx.save();
    ctx.strokeStyle = o.boxColor || AXC;
    ctx.lineWidth = 1;
    if (o.tick) {
      const sides = o.tickSides || 'tblr';
      const xs = chart.scales.x, ys = chart.scales.y;
      ctx.beginPath();
      if (sides.includes('b')) {
        xs.ticks.forEach(t => {
          const p = Math.round(xs.getPixelForValue(t.value)) + 0.5;
          ctx.moveTo(p, a.bottom); ctx.lineTo(p, a.bottom - o.tick);
          ctx.moveTo(p, a.top); ctx.lineTo(p, a.top + o.tick);
        });
      }
      ys.ticks.forEach(t => {
        const p = Math.round(ys.getPixelForValue(t.value)) + 0.5;
        if (sides.includes('l')) { ctx.moveTo(a.left, p); ctx.lineTo(a.left + o.tick, p); }
        if (sides.includes('r')) { ctx.moveTo(a.right, p); ctx.lineTo(a.right - o.tick, p); }
      });
      ctx.stroke();
    }
    if (o.box) {
      ctx.strokeRect(Math.round(a.left) + 0.5, Math.round(a.top) + 0.5, Math.round(a.width) - 1, Math.round(a.height) - 1);
    }
    ctx.textAlign = 'center';
    ctx.textBaseline = 'middle';
    if (o.cells) {
      ctx.font = '14px ' + FONT;
      ctx.fillStyle = '#1a1a1a';
      chart.data.datasets.forEach((ds, di) => {
        chart.getDatasetMeta(di).data.forEach((el, i) => {
          const p = el.getCenterPoint();
          ctx.fillText(String(o.cells[di][i]), p.x, p.y + 1);
        });
      });
    }
    if (o.title) {
      ctx.font = 'bold 16px ' + FONT;
      ctx.fillStyle = '#000';
      ctx.fillText(o.title, cx, a.top - o.titleOff);
    }
    if (o.xlabel) {
      ctx.font = '15.5px ' + FONT;
      ctx.fillStyle = AXC;
      ctx.fillText(o.xlabel, cx, a.bottom + 35);
    }
    if (o.ylabel) {
      ctx.save();
      ctx.translate(a.left - o.ylabelOff, cy);
      ctx.rotate(-Math.PI / 2);
      ctx.font = '15px ' + FONT;
      ctx.fillStyle = AXC;
      ctx.fillText(o.ylabel, 0, 0);
      ctx.restore();
    }
    if (o.legend) {
      const L = o.legend;
      const x0 = a.left + L.dx, y0 = a.top + L.dy;
      ctx.fillStyle = '#fff';
      ctx.fillRect(x0, y0, L.w, L.h);
      ctx.strokeStyle = AXC;
      ctx.lineWidth = 1;
      ctx.strokeRect(x0 + 0.5, y0 + 0.5, L.w, L.h);
      ctx.font = '14px ' + FONT;
      ctx.textAlign = 'left';
      const metas = chart.data.datasets;
      metas.forEach((ds, i) => {
        const y = Math.round(y0 + L.h * (0.3 + 0.5 * i)) + 0.5;
        ctx.beginPath();
        ctx.strokeStyle = i === 0 ? LIB_COLOR : CON_COLOR;
        ctx.lineWidth = 1.2;
        ctx.moveTo(x0 + 4, y);
        ctx.lineTo(x0 + 32, y);
        ctx.stroke();
        ctx.fillStyle = '#000';
        ctx.fillText(ds.label, x0 + 37, y);
      });
    }
    ctx.restore();
  }
};
Chart.register(deco);

const fig = document.getElementById('fig');
function addChart(box, pad, config) {
  const c = document.createElement('canvas');
  const W = box.w + pad.l + pad.r, H = box.h + pad.t + pad.b;
  c.width = W; c.height = H;
  c.style.left = (box.x - pad.l) + 'px';
  c.style.top = (box.y - pad.t) + 'px';
  c.style.width = W + 'px';
  c.style.height = H + 'px';
  fig.appendChild(c);
  config.options.responsive = false;
  config.options.devicePixelRatio = 1;
  return new Chart(c, config);
}

function tsChart(box, title, dates, lib, con, yTicks, legend) {
  const all = lib.concat(con);
  const lo = Math.min(...all), hi = Math.max(...all);
  const pad = {l: 42, t: 28, r: 8, b: 26}, axW = 30, axH = 26;
  return addChart(box, pad, {
    type: 'line',
    data: {datasets: [
      {label: 'libs', data: lib.map((v, i) => ({x: i, y: v})), borderColor: LIB_COLOR, order: 2},
      {label: 'cons', data: con.map((v, i) => ({x: i, y: v})), borderColor: CON_COLOR, order: 1}
    ]},
    options: {
      layout: {padding: {left: pad.l - axW, top: pad.t, right: pad.r, bottom: pad.b - axH}},
      elements: {line: {borderWidth: 1, tension: 0}, point: {radius: 0}},
      scales: {
        x: {type: 'linear', min: 0, max: lib.length - 1,
            afterFit: s => { s.height = axH; },
            afterBuildTicks: s => { s.ticks = dates.map((d, k) => ({value: 14 * k})); },
            ticks: {autoSkip: false, maxRotation: 0, padding: 7.5, callback: (v, i) => dates[i]},
            grid: {display: false, drawTicks: false}, border: {display: false}},
        y: {type: 'linear', min: lo - 0.08, max: hi + 0.08,
            afterFit: s => { s.width = axW; },
            afterBuildTicks: s => { s.ticks = yTicks.map(v => ({value: v})); },
            ticks: {autoSkip: false, padding: 5, callback: v => String(v)},
            grid: {display: false, drawTicks: false}, border: {display: false}}
      },
      plugins: {deco: {box: true, tick: 3, title: title, titleOff: 11, ylabel: 'zscore', ylabelOff: 29, legend: legend}}
    }
  });
}

function acfChart(box, title, acf, lastRow) {
  const lo = Math.min(-acfBound, ...acf) - 0.04;
  const pad = {l: 46, t: 22, r: 48, b: lastRow ? 46 : 22}, axW = 30, axH = 22;
  const pts = lags.map((l, i) => ({x: l, y: acf[i]}));
  return addChart(box, pad, {
    type: 'line',
    data: {datasets: [
      {type: 'line', data: [{x: 0.5, y: acfBound}, {x: 30, y: acfBound}], borderColor: 'rgba(0,0,255,0.85)', borderWidth: 1.5, pointRadius: 0, order: 0},
      {type: 'line', data: [{x: 0.5, y: -acfBound}, {x: 30, y: -acfBound}], borderColor: 'rgba(0,0,255,0.85)', borderWidth: 1.5, pointRadius: 0, order: 0},
      {type: 'line', data: [{x: 0, y: 0}, {x: 30, y: 0}], borderColor: '#000', borderWidth: 1, pointRadius: 0, order: 1},
      {type: 'line', data: pts, showLine: false, pointRadius: 2.3, pointBackgroundColor: '#ff0000', pointBorderWidth: 0, clip: 8, order: 2},
      {type: 'bar', data: pts, backgroundColor: '#ff3030', barThickness: 1, order: 3}
    ]},
    options: {
      layout: {padding: {left: pad.l - axW, top: pad.t, right: pad.r, bottom: pad.b - axH}},
      scales: {
        x: {type: 'linear', min: 0, max: 30, offset: false,
            afterFit: s => { s.height = axH; },
            afterBuildTicks: s => { s.ticks = lagTicks.map(v => ({value: v})); },
            ticks: {autoSkip: false, maxRotation: 0, padding: 5.6, callback: v => String(v)},
            grid: {color: '#e2e2e2', drawTicks: false, offset: false}, border: {display: false}},
        y: {type: 'linear', min: lo, max: 1.04,
            afterFit: s => { s.width = axW; },
            afterBuildTicks: s => { s.ticks = acfTicks.map(v => ({value: v})); },
            ticks: {autoSkip: false, padding: 5, callback: v => String(v)},
            grid: {color: '#e2e2e2', drawTicks: false}, border: {display: false}}
      },
      plugins: {deco: {box: true, tick: 2, title: title, titleOff: 11, ylabel: 'autocorr', ylabelOff: 36, xlabel: lastRow ? 'lag (days)' : null}}
    }
  });
}

function heatChart(box, lib, con) {
  const pad = {l: 82, t: 16, r: 8, b: 30}, axW = 80, axH = 30;
  return addChart(box, pad, {
    type: 'bar',
    data: {labels: topics, datasets: [
      {label: groups[0], data: lib.map(() => [0, 1]), backgroundColor: lib.map(heatColor)},
      {label: groups[1], data: con.map(() => [1, 2]), backgroundColor: con.map(heatColor)}
    ]},
    options: {
      indexAxis: 'y',
      layout: {padding: {left: pad.l - axW, top: pad.t, right: pad.r, bottom: pad.b - axH}},
      datasets: {bar: {grouped: false, barPercentage: 1, categoryPercentage: 1, borderWidth: 1, borderColor: '#4a4a4a', borderSkipped: false}},
      scales: {
        x: {type: 'linear', min: 0, max: 2,
            afterFit: s => { s.height = axH; },
            afterBuildTicks: s => { s.ticks = [{value: 0.5}, {value: 1.5}]; },
            ticks: {autoSkip: false, maxRotation: 0, padding: 6.3, font: {size: 14.5}, callback: (v, i) => groups[i]},
            grid: {display: false, drawTicks: false}, border: {display: false}},
        y: {afterFit: s => { s.width = axW; },
            ticks: {padding: 5, font: {size: 14.5}},
            grid: {display: false, drawTicks: false}, border: {display: false}}
      },
      plugins: {deco: {box: true, boxColor: '#333', cells: [lib, con]}}
    }
  });
}

function cbarChart(box) {
  const pad = {l: 2, t: 16, r: 34, b: 16}, axW = 32;
  return addChart(box, pad, {
    type: 'scatter',
    data: {datasets: [{data: []}]},
    options: {
      layout: {padding: {left: pad.l, top: pad.t, right: pad.r - axW, bottom: pad.b}},
      scales: {
        x: {display: false, min: 0, max: 1},
        y: {position: 'right', min: cbarRange[0], max: cbarRange[1],
            afterFit: s => { s.width = axW; },
            afterBuildTicks: s => { s.ticks = cbarTicks.map(v => ({value: v})); },
            ticks: {autoSkip: false, padding: 5, font: {size: 13.5}, callback: v => String(v)},
            grid: {display: false, drawTicks: false}, border: {display: false}}
      },
      plugins: {deco: {gradient: true, box: true, boxColor: '#222', tick: 3, tickSides: 'r'}}
    }
  });
}

// ---------------------------------------------------------------
const columns = [
  {dates: dates1, libs: [libs1Edu, libs1Vac, libs1Mask, libs1Lock, libs1Orig], cons: [cons1Edu, cons1Vac, cons1Mask, cons1Lock, cons1Orig],
   yTicks: [[-2, 0, 2, 4], [-1, 0, 1, 2, 3], [-1, 0, 1, 2], [-1, 0, 1, 2], [0, 2, 4, 6]],
   acfLib: [acfLib1Edu, acfLib1Vac, acfLib1Mask, acfLib1Lock, acfLib1Orig], acfCon: [acfCon1Edu, acfCon1Vac, acfCon1Mask, acfCon1Lock, acfCon1Orig],
   heatLib: heatLib1, heatCon: heatCon1},
  {dates: dates2, libs: [libs2Edu, libs2Vac, libs2Mask, libs2Lock, libs2Orig], cons: [cons2Edu, cons2Vac, cons2Mask, cons2Lock, cons2Orig],
   yTicks: [[-1, 0, 1, 2, 3], [0, 2, 4, 6], [-1, 0, 1, 2, 3], [0, 2, 4], [0, 2, 4, 6]],
   acfLib: [acfLib2Edu, acfLib2Vac, acfLib2Mask, acfLib2Lock, acfLib2Orig], acfCon: [acfCon2Edu, acfCon2Vac, acfCon2Mask, acfCon2Lock, acfCon2Orig],
   heatLib: heatLib2, heatCon: heatCon2},
  {dates: dates3, libs: [libs3Edu, libs3Vac, libs3Mask, libs3Lock, libs3Orig], cons: [cons3Edu, cons3Vac, cons3Mask, cons3Lock, cons3Orig],
   yTicks: [[-2, 0, 2], [-1, 0, 1, 2, 3], [0, 2, 4, 6], [-2, 0, 2], [0, 2, 4]],
   acfLib: [acfLib3Edu, acfLib3Vac, acfLib3Mask, acfLib3Lock, acfLib3Orig], acfCon: [acfCon3Edu, acfCon3Vac, acfCon3Mask, acfCon3Lock, acfCon3Orig],
   heatLib: heatLib3, heatCon: heatCon3}
];

// panel geometry (pixel boxes of each axes)
const tsBoxes = [
  [{x: 43, y: 19, w: 381, h: 39}, {x: 43, y: 107, w: 381, h: 39}, {x: 43, y: 196, w: 381, h: 39}, {x: 43, y: 283, w: 381, h: 39}, {x: 43, y: 372, w: 381, h: 38}],
  [{x: 502, y: 25, w: 377, h: 38}, {x: 502, y: 112, w: 377, h: 39}, {x: 502, y: 200, w: 377, h: 38}, {x: 502, y: 288, w: 377, h: 38}, {x: 502, y: 375, w: 377, h: 38}],
  [{x: 958, y: 16, w: 382, h: 39}, {x: 958, y: 105, w: 382, h: 38}, {x: 958, y: 194, w: 382, h: 38}, {x: 958, y: 281, w: 382, h: 38}, {x: 958, y: 368, w: 382, h: 39}]
];
const legendBoxes = [{dx: 295, dy: -19, w: 74, h: 39}, {dx: 260, dy: -21, w: 71, h: 40}, {dx: 254, dy: -23, w: 73, h: 42}];
const acfLeftX = [51, 509, 966];
const acfRightX = [257, 716, 1171];
const acfRowsY = [[472, 552, 633, 713, 794], [470, 551, 632, 713, 794], [474, 554, 633, 713, 793]];
const heatBoxes = [{x: 79, y: 893, w: 300, h: 269}, {x: 543, y: 895, w: 296, h: 267}, {x: 999, y: 897, w: 298, h: 267}];
const cbarBoxes = [{x: 387, y: 893, w: 17, h: 269}, {x: 848, y: 896, w: 17, h: 266}, {x: 1304, y: 897, w: 18, h: 267}];

columns.forEach((col, c) => {
  topics.forEach((t, r) => {
    tsChart(tsBoxes[c][r], t, col.dates, col.libs[r], col.cons[r], col.yTicks[r], r === 4 ? legendBoxes[c] : null);
  });
  topics.forEach((t, r) => {
    const last = r === 4;
    acfChart({x: acfLeftX[c], y: acfRowsY[c][r], w: 150, h: 34}, t + ': ' + groups[0], col.acfLib[r], last);
    acfChart({x: acfRightX[c], y: acfRowsY[c][r], w: 150, h: 34}, t + ': ' + groups[1], col.acfCon[r], last);
  });
  heatChart(heatBoxes[c], col.heatLib, col.heatCon);
  cbarChart(cbarBoxes[c]);
});
</script>
</body>
</html>
